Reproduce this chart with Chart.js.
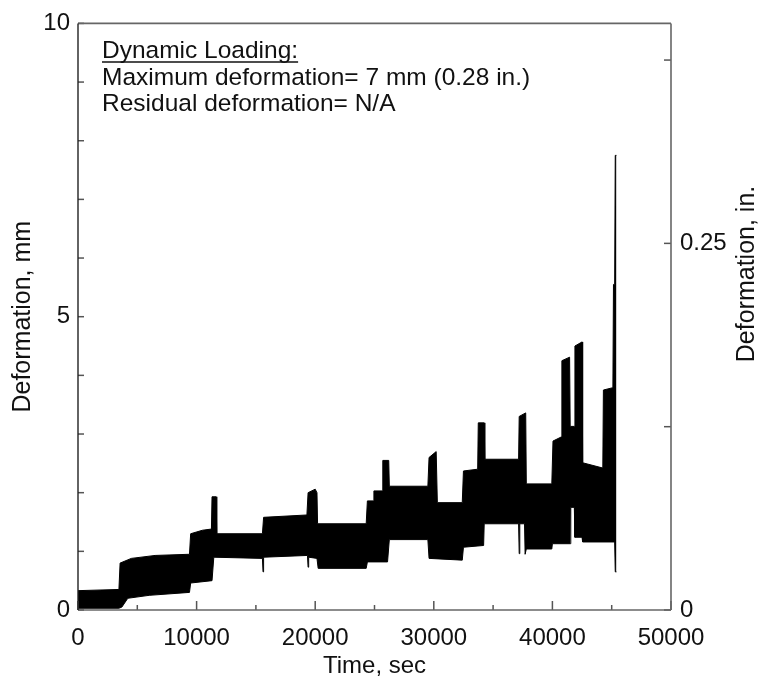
<!DOCTYPE html>
<html>
<head>
<meta charset="utf-8">
<script src="https://cdn.jsdelivr.net/npm/chart.js@4.4.1/dist/chart.umd.min.js"></script>
<style>
  html, body { margin: 0; padding: 0; background: #fff; }
  #wrap { width: 763px; height: 681px; }
</style>
</head>
<body>
<div id="wrap"><canvas id="chart" width="763" height="681"></canvas></div>
<script>
// upper edge of the oscillation band (time in s, deformation in mm)
const upperTime = [0, 3450, 3550, 4500, 6500, 9400, 9500, 10500, 11250, 11300, 11650, 11700,
  15550, 15650, 19300, 19400, 20000, 20150, 20200, 24300, 24400, 24900, 24950, 25650, 25700,
  26200, 26250, 29500, 29600, 30200, 30300, 32400, 32500, 33700, 33750, 34250, 34300, 37150,
  37200, 37750, 37800, 39950, 40050, 40750, 40800, 41450, 41500, 41850, 41900, 42500, 42550,
  44250, 44300, 45100, 45150, 45250, 45300, 45400];
const upperMm = [0.33, 0.35, 0.80, 0.88, 0.93, 0.95, 1.30, 1.36, 1.38, 1.93, 1.93, 1.30,
  1.30, 1.58, 1.62, 2.00, 2.06, 2.00, 1.47, 1.47, 1.86, 1.86, 2.03, 2.03, 2.55,
  2.55, 2.11, 2.11, 2.60, 2.70, 1.83, 1.83, 2.37, 2.40, 3.19, 3.19, 2.57, 2.57,
  3.30, 3.36, 2.15, 2.15, 2.88, 2.95, 4.25, 4.31, 3.13, 3.13, 4.50, 4.57, 2.51,
  2.42, 3.75, 3.79, 5.55, 5.55, 7.75, 7.75];

// lower edge of the band
const lowerTime = [0, 3450, 3700, 4200, 6000, 9400, 9500, 11300, 11450, 15550, 15600, 15650,
  19350, 19400, 19450, 20150, 20250, 24300, 24400, 26100, 26250, 29500, 29600, 32400, 32500,
  34200, 34250, 37150, 37200, 37250, 37650, 37700, 37800, 39950, 40000, 41500, 41550, 41850,
  41900, 42500, 42550, 45250, 45300, 45400];
const lowerMm = [0.03, 0.03, 0.05, 0.20, 0.25, 0.30, 0.46, 0.50, 0.90, 0.88, 0.65, 0.90,
  0.93, 0.73, 0.90, 0.88, 0.71, 0.71, 0.82, 0.82, 1.20, 1.20, 0.88, 0.85, 1.07,
  1.10, 1.47, 1.47, 0.96, 1.47, 1.47, 0.95, 1.04, 1.04, 1.13, 1.13, 1.75, 1.75,
  1.24, 1.24, 1.16, 1.16, 0.65, 0.65];

const xTickLabels = [0, 10000, 20000, 30000, 40000, 50000];
const mmTickLabels = [0, 5, 10];
const inTickLabels = [0, 0.25];
const noteLines = ["Dynamic Loading:", "Maximum deformation= 7 mm (0.28 in.)", "Residual deformation= N/A"];

const FONT = "'Liberation Sans', Arial, Helvetica, sans-serif";
const INK = "#111";

function pts(xs, ys) {
  return xs.map((x, i) => ({ x: x, y: ys[i] }));
}

// inward tick marks, plot frame, right-hand title and the note block
const decor = {
  id: "decor",
  afterDraw(chart) {
    const { ctx, chartArea: a, scales } = chart;
    ctx.save();
    ctx.lineCap = "butt";

    function seg(x1, y1, x2, y2) {
      ctx.beginPath();
      ctx.moveTo(x1, y1);
      ctx.lineTo(x2, y2);
      ctx.stroke();
    }

    ctx.strokeStyle = "#555";
    ctx.lineWidth = 1.5;
    scales.x.ticks.forEach(t => {
      const px = scales.x.getPixelForValue(t.value);
      const len = t.value % 10000 === 0 ? 9 : 5;
      seg(px, a.bottom, px, a.bottom - len);
    });
    scales.y.ticks.forEach(t => {
      const py = scales.y.getPixelForValue(t.value);
      seg(a.left, py, a.left + 6, py);
    });
    scales.y2.ticks.forEach(t => {
      const py = scales.y2.getPixelForValue(t.value);
      seg(a.right, py, a.right - 7, py);
    });

    // frame: dark left side, grey for the rest
    ctx.strokeStyle = "#666";
    ctx.lineWidth = 1.6;
    seg(a.left, a.top, a.right, a.top);
    seg(a.right, a.top, a.right, a.bottom);
    seg(a.left, a.bottom, a.right, a.bottom);
    ctx.strokeStyle = "#222";
    ctx.lineWidth = 1.4;
    seg(a.left, a.top, a.left, a.bottom);

    // right axis title reads bottom to top
    ctx.fillStyle = INK;
    ctx.font = "25px " + FONT;
    ctx.textAlign = "center";
    ctx.textBaseline = "middle";
    ctx.translate(747, 274);
    ctx.rotate(-Math.PI / 2);
    ctx.fillText("Deformation, in.", 0, 0);
    ctx.setTransform(1, 0, 0, 1, 0, 0);

    // note block
    ctx.font = "24.5px " + FONT;
    ctx.textAlign = "left";
    ctx.textBaseline = "alphabetic";
    const nx = 102;
    const base = [58, 85, 111];
    noteLines.forEach((s, i) => ctx.fillText(s, nx, base[i]));
    const w = ctx.measureText(noteLines[0]).width;
    ctx.strokeStyle = INK;
    ctx.lineWidth = 1.3;
    seg(nx, base[0] + 4, nx + w, base[0] + 4);
    ctx.restore();
  }
};

const ctx = document.getElementById("chart").getContext("2d");
const chart = new Chart(ctx, {
  type: "line",
  data: {
    datasets: [
      {
        label: "upper",
        data: pts(upperTime, upperMm),
        borderColor: "#000",
        backgroundColor: "#000",
        borderWidth: 1,
        pointRadius: 0,
        tension: 0,
        fill: "+1",
      },
      {
        label: "lower",
        data: pts(lowerTime, lowerMm),
        borderColor: "#000",
        backgroundColor: "#000",
        borderWidth: 1,
        pointRadius: 0,
        tension: 0,
        fill: false,
      },
    ],
  },
  options: {
    responsive: false,
    animation: false,
    layout: { padding: { top: 19, left: 0, right: 0, bottom: 0 } },
    plugins: {
      legend: { display: false },
      tooltip: { enabled: false },
    },
    scales: {
      x: {
        type: "linear",
        min: 0,
        max: 50000,
        grid: { display: false, drawTicks: false },
        border: { display: false },
        ticks: {
          stepSize: 5000,
          autoSkip: false,
          maxRotation: 0,
          padding: 14,
          color: INK,
          font: { family: FONT, size: 24 },
          callback: v => (xTickLabels.includes(v) ? String(v) : ""),
        },
        title: {
          display: true,
          text: "Time, sec",
          color: INK,
          font: { family: FONT, size: 24 },
          padding: { top: 3, bottom: 0 },
        },
        afterFit(scale) { scale.height = 71; },
      },
      y: {
        position: "left",
        min: 0,
        max: 10,
        grid: { display: false, drawTicks: false },
        border: { display: false },
        ticks: {
          stepSize: 1,
          autoSkip: false,
          padding: 8,
          color: INK,
          font: { family: FONT, size: 24 },
          callback: v => (mmTickLabels.includes(v) ? String(v) : ""),
        },
        title: {
          display: true,
          text: "Deformation, mm",
          color: INK,
          font: { family: FONT, size: 25 },
          padding: { top: 8, bottom: 0 },
        },
        afterFit(scale) { scale.width = 78; },
      },
      y2: {
        position: "right",
        min: 0,
        max: 0.4,
        grid: { display: false, drawTicks: false },
        border: { display: false },
        ticks: {
          stepSize: 0.125,
          includeBounds: false,
          autoSkip: false,
          padding: 9,
          color: INK,
          font: { family: FONT, size: 24 },
          callback: v => (inTickLabels.includes(v) ? String(v) : ""),
        },
        afterFit(scale) { scale.width = 92; },
      },
    },
  },
  plugins: [decor],
});
</script>
</body>
</html>
